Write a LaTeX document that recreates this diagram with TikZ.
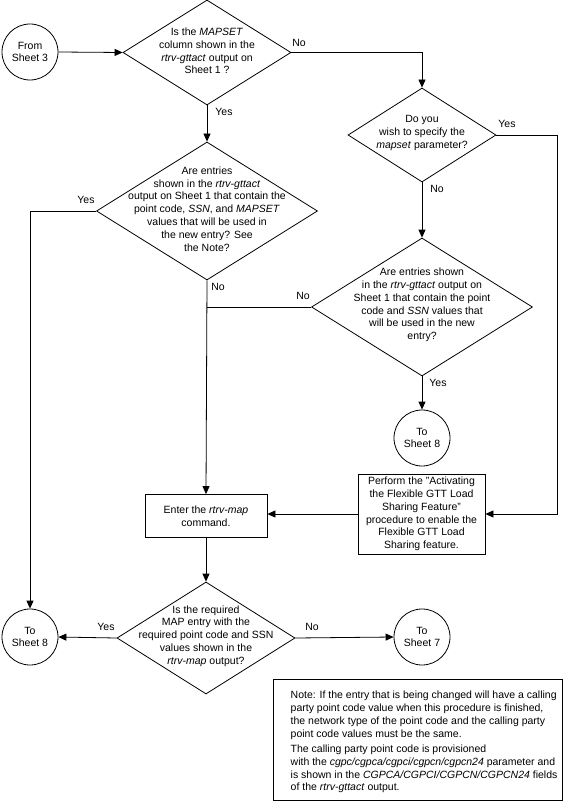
\documentclass[tikz,border=0pt]{standalone}
\usepackage{fontspec}
\setmainfont{Liberation Sans}
\usetikzlibrary{shapes.geometric,arrows.meta}
\begin{document}
\begin{tikzpicture}[x=1pt,y=-1pt,
  every node/.style={font=\fontsize{10.5}{12.8}\selectfont},
  line/.style={line width=0.8pt},
  arr/.style={line width=0.8pt,-{Triangle[length=8pt,width=7pt]}},
  dia/.style={draw,diamond,inner sep=0pt,line width=0.8pt},
  conn/.style={draw,circle,inner sep=0pt,minimum size=56pt,line width=0.8pt,align=center},
  proc/.style={draw,rectangle,inner sep=0pt,line width=0.8pt},
  txt/.style={align=center,inner sep=0pt},
  lbl/.style={inner sep=0pt}
]
\useasboundingbox (0,0) rectangle (565,805);

% connectors (circles)
\node[conn] (c1) at (30,52) {From\\Sheet 3};
\node[conn] (c2) at (422,438) {To\\Sheet 8};
\node[conn] (c3) at (30,637) {To\\Sheet 8};
\node[conn] (c4) at (422,637) {To\\Sheet 7};

% decisions
\node[dia,minimum width=168pt,minimum height=105pt] (d1) at (207,52.5) {};
\node[txt] (t1) at (207,51) {Is the \textit{MAPSET}\\column shown in the\\\textit{rtrv-gttact} output on\\Sheet 1 ?};

\node[dia,minimum width=148pt,minimum height=94pt] (d2) at (422,135) {};
\node[txt] (t2) at (422,133) {Do you\\wish to specify the\\\textit{mapset} parameter?};

\node[dia,minimum width=221pt,minimum height=138pt] (d3) at (422,307) {};
\node[txt] (t3) at (422,305) {Are entries shown\\in the \textit{rtrv-gttact} output on\\Sheet 1 that contain the point\\code and \textit{SSN} values that\\will be used in the new\\entry?};

\node[dia,minimum width=221pt,minimum height=138pt] (db) at (207,211) {};
\node[txt] (tb) at (207,209) {Are entries\\shown in the \textit{rtrv-gttact}\\output on Sheet 1 that contain the\\point code, \textit{SSN}, and \textit{MAPSET}\\values that will be used in\\the new entry? See\\the Note?};

\node[dia,minimum width=178pt,minimum height=112pt] (dc) at (206,638) {};
\node[txt] (tc) at (206,636) {Is the required\\MAP entry with the\\required point code and SSN\\values shown in the\\\textit{rtrv-map} output?};

% processes
\node[proc,minimum width=122pt,minimum height=43pt,align=center] (enter) at (206,516) {Enter the \textit{rtrv-map}\\command.};
\node[proc,minimum width=127pt,minimum height=80pt,align=center] (perf) at (421.5,514) {Perform the "Activating\\the Flexible GTT Load\\Sharing Feature"\\procedure to enable the\\Flexible GTT Load\\Sharing feature.};

% note
\node[proc,minimum width=289pt,minimum height=121pt] (notebox) at (417.5,739.5) {};
\node[inner sep=0pt,align=left,anchor=north west] (notetext) at (290.5,691) {Note: If the entry that is being changed will have a calling\\party point code value when this procedure is finished,\\the network type of the point code and the calling party\\point code values must be the same.\\[2.5pt]The calling party point code is provisioned\\with the \textit{cgpc/cgpca/cgpci/cgpcn/cgpcn24} parameter and\\is shown in the \textit{CGPCA/CGPCI/CGPCN/CGPCN24} fields\\of the \textit{rtrv-gttact} output.};

% helper coordinate
\coordinate (rt) at (557,135);

% edges
\draw[arr] (c1.east) -- (d1.west);
\draw[arr] (d1.east) -- (d1.east -| d2.north) -- (d2.north);
\draw[arr] (d1.south) -- (db.north);
\draw[arr] (d2.east) -- (rt) |- (perf.east);
\draw[arr] (d2.south) -- (d3.north);
\draw[line] (d3.west) -- (d3.west -| db.south);
\draw[arr] (db.south) -- (enter.north);
\draw[arr] (d3.south) -- (c2.north);
\draw[arr] (db.west) -- (db.west -| c3.north) -- (c3.north);
\draw[arr] (perf.west) -- (perf.west -| enter.east);
\draw[arr] (enter.south) -- (dc.north);
\draw[arr] (dc.west) -- (c3.east);
\draw[arr] (dc.east) -- (c4.west);

% edge labels
\node[lbl] (l1) at (299,43) {No};
\node[lbl] (l2) at (224,112) {Yes};
\node[lbl] (l3) at (507,124) {Yes};
\node[lbl] (l4) at (437,189) {No};
\node[lbl] (l5) at (86,200) {Yes};
\node[lbl] (l6) at (218,287) {No};
\node[lbl] (l7) at (303,296) {No};
\node[lbl] (l8) at (438,383) {Yes};
\node[lbl] (l9) at (106,627) {Yes};
\node[lbl] (l10) at (312,627) {No};
\end{tikzpicture}
\end{document}
